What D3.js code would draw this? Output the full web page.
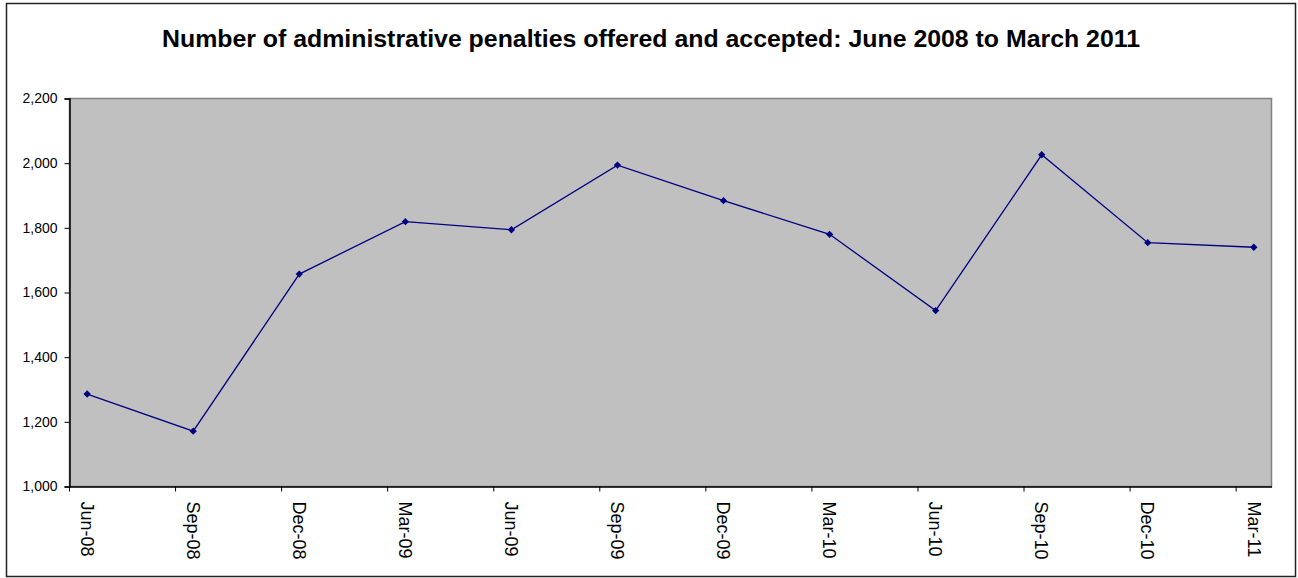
<!DOCTYPE html>
<html>
<head>
<meta charset="utf-8">
<script src="https://cdn.jsdelivr.net/npm/d3@7"></script>
<style>
  body { margin: 0; background: #fff; }
  text { font-family: "Liberation Sans", Arial, sans-serif; }
</style>
</head>
<body>
<div id="chart"></div>
<script>
// quarterly figures
var categories = ["Jun-08", "Sep-08", "Dec-08", "Mar-09", "Jun-09", "Sep-09",
                  "Dec-09", "Mar-10", "Jun-10", "Sep-10", "Dec-10", "Mar-11"];
var penalties = [1286, 1171, 1657, 1819, 1794, 1994, 1884, 1780, 1544, 2026, 1754, 1740];
var yTicks = [1000, 1200, 1400, 1600, 1800, 2000, 2200];
var title = "Number of administrative penalties offered and accepted: June 2008 to March 2011";

var width = 1298, height = 578;
var plot = {left: 69.5, right: 1271.5, top: 98.5, bottom: 486.5};

var svg = d3.select("#chart").append("svg")
    .attr("width", width)
    .attr("height", height);

// outer chart border
svg.append("rect")
    .attr("x", 6.5).attr("y", 3.5)
    .attr("width", 1289).attr("height", 573)
    .attr("fill", "#fff")
    .attr("stroke", "#222")
    .attr("stroke-width", 1.5);

// date axis: one slot per month, labels every quarter
var fmt = d3.timeFormat("%b-%y");
var months = d3.timeMonth.range(new Date(2008, 5, 1), new Date(2011, 3, 1)).map(fmt);

var x = d3.scaleBand().domain(months).range([plot.left, plot.right]).padding(0);
var y = d3.scaleLinear().domain([1000, 2200]).range([plot.bottom, plot.top]);
var bw = x.bandwidth();

// plot area
svg.append("rect")
    .attr("x", plot.left).attr("y", plot.top)
    .attr("width", plot.right - plot.left)
    .attr("height", plot.bottom - plot.top)
    .attr("fill", "#c0c0c0")
    .attr("stroke", "#808080")
    .attr("stroke-width", 1.5);

// y axis
var yAxis = svg.append("g")
    .attr("transform", "translate(" + plot.left + ",0)")
    .call(d3.axisLeft(y).tickValues(yTicks).tickFormat(d3.format(",")).tickSize(5).tickPadding(7));
yAxis.select(".domain").attr("stroke", "#000").attr("stroke-width", 1.5);
yAxis.selectAll(".tick line").attr("stroke", "#000");
yAxis.selectAll(".tick text")
    .attr("font-size", "14px")
    .attr("fill", "#000")
    .attr("font-family", "'Liberation Sans', Arial, sans-serif");

// x axis
var xAxis = svg.append("g")
    .attr("transform", "translate(0," + plot.bottom + ")")
    .call(d3.axisBottom(x).tickValues(categories).tickSize(5).tickSizeOuter(0));
xAxis.select(".domain").attr("stroke", "#000").attr("stroke-width", 1.5);
// tick marks sit on the left edge of each quarter's first month
xAxis.selectAll(".tick line")
    .attr("stroke", "#000")
    .attr("transform", "translate(" + (-bw / 2) + ",0)");
xAxis.selectAll(".tick text")
    .attr("font-size", "18px")
    .attr("fill", "#000")
    .attr("font-family", "'Liberation Sans', Arial, sans-serif")
    .attr("text-anchor", "start")
    .attr("x", 0).attr("y", 0)
    .attr("dy", "0.35em")
    .attr("transform", "translate(0,15) rotate(90)");

// line + markers
var line = d3.line()
    .x(function(d, i) { return x(categories[i]) + bw / 2; })
    .y(function(d) { return y(d); });

svg.append("path")
    .datum(penalties)
    .attr("d", line)
    .attr("fill", "none")
    .attr("stroke", "#000080")
    .attr("stroke-width", 1.3);

svg.selectAll(".marker")
    .data(penalties)
    .enter().append("path")
    .attr("class", "marker")
    .attr("d", d3.symbol().type(d3.symbolDiamond2).size(34))
    .attr("transform", function(d, i) {
        return "translate(" + (x(categories[i]) + bw / 2) + "," + y(d) + ")";
    })
    .attr("fill", "#000080");

// title
svg.append("text")
    .attr("x", 651)
    .attr("y", 47)
    .attr("text-anchor", "middle")
    .attr("font-size", "23px")
    .attr("font-weight", "bold")
    .attr("textLength", 978)
    .attr("lengthAdjust", "spacingAndGlyphs")
    .text(title);
</script>
</body>
</html>
